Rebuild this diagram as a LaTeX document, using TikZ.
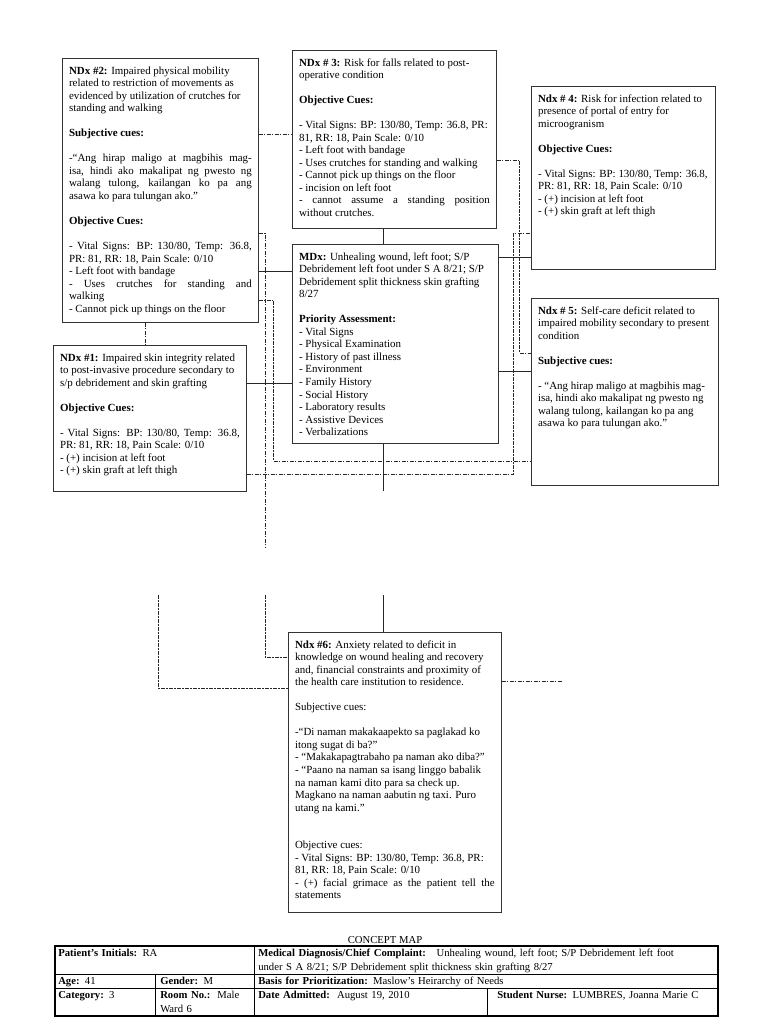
\documentclass[tikz,border=0pt]{standalone}
\usepackage{fontspec}
\setmainfont{Liberation Serif}
\usepackage{tikz}
\usetikzlibrary{arrows.meta}

\tikzset{
nbox/.style={draw=black!80,line width=0.6pt,anchor=north west,align=justify,inner xsep=5pt,inner ysep=5.8pt,text height=6pt,font=\fontsize{8.2}{9.4}\selectfont},
tcell/.style={anchor=north west,inner sep=0pt,text height=5.5pt,text width=#1,align=left,font=\fontsize{8}{10.5}\selectfont},
sline/.style={black!85,line width=0.5pt},
dline/.style={black!85,line width=0.5pt,dash pattern=on 3pt off 1pt on 1pt off 1pt}
}
\newcommand{\blk}{\\[9.4pt]}

\begin{document}
\begin{tikzpicture}[x=0.75pt,y=-0.75pt,>=stealth]
\useasboundingbox[fill=white](0,0)rectangle(768,1024);

\node[nbox,text width=137pt,text depth=180.4pt](n2)at(62,58){\textbf{NDx \#2:} Impaired physical mobility\\
related to restriction of movements as\\
evidenced by utilization of crutches for\\
standing and walking\blk
\textbf{Subjective cues:}\blk
-“Ang hirap maligo at magbihis mag-\linebreak
isa, hindi ako makalipat ng pwesto ng\linebreak
walang tulong, kailangan ko pa ang\linebreak
asawa ko para tulungan ako.”\blk
\textbf{Objective Cues:}\blk
- Vital Signs: BP: 130/80, Temp: 36.8,\linebreak
PR: 81, RR: 18, Pain Scale: 0/10\\
- Left foot with bandage\\
- Uses crutches for standing and\linebreak
walking\\
- Cannot pick up things on the floor};

\node[nbox,text width=143pt,text depth=115.9pt](n3)at(292,50){\textbf{NDx \# 3:} Risk for falls related to post-\\
operative condition\blk
\textbf{Objective Cues:}\blk
- Vital Signs: BP: 130/80, Temp: 36.8, PR:\\
81, RR: 18, Pain Scale: 0/10\\
- Left foot with bandage\\
- Uses crutches for standing and walking\\
- Cannot pick up things on the floor\\
- incision on left foot\\
- cannot assume a standing position\linebreak
without crutches.};

\node[nbox,text width=128pt,text depth=119.6pt](n4)at(531,86){\textbf{Ndx \# 4:} Risk for infection related to\\
presence of portal of entry for\\
microogranism\blk
\textbf{Objective Cues:}\blk
- Vital Signs: BP: 130/80, Temp: 36.8,\\
PR: 81, RR: 18, Pain Scale: 0/10\\
- (+) incision at left foot\\
- (+) skin graft at left thigh};

\node[nbox,text width=144.5pt,text depth=131.6pt](md)at(292,244){\textbf{MDx:} Unhealing wound, left foot; S/P\\
Debridement left foot under S A 8/21; S/P\\
Debridement split thickness skin grafting\\
8/27\blk
\textbf{Priority Assessment:}\\
- Vital Signs\\
- Physical Examination\\
- History of past illness\\
- Environment\\
- Family History\\
- Social History\\
- Laboratory results\\
- Assistive Devices\\
- Verbalizations};

\node[nbox,text width=134.75pt,text depth=91.9pt](n1)at(53,345){\textbf{NDx \#1:} Impaired skin integrity related\\
to post-invasive procedure secondary to\\
s/p debridement and skin grafting\blk
\textbf{Objective Cues:}\blk
- Vital Signs: BP: 130/80, Temp: 36.8,\linebreak
PR: 81, RR: 18, Pain Scale: 0/10\\
- (+) incision at left foot\\
- (+) skin graft at left thigh};

\node[nbox,text width=130pt,text depth=122.6pt](n5)at(531,298){\textbf{Ndx \# 5:} Self-care deficit related to\\
impaired mobility secondary to present\\
condition\blk
\textbf{Subjective cues:}\blk
- “Ang hirap maligo at magbihis mag-\\
isa, hindi ako makalipat ng pwesto ng\\
walang tulong, kailangan ko pa ang\\
asawa ko para tulungan ako.”};

\node[nbox,text width=149.75pt,text depth=192.4pt](n6)at(288,632){\textbf{Ndx \#6:} Anxiety related to deficit in\\
knowledge on wound healing and recovery\\
and, financial constraints and proximity of\\
the health care institution to residence.\blk
Subjective cues:\blk
-“Di naman makakaapekto sa paglakad ko\\
itong sugat di ba?”\\
- “Makakapagtrabaho pa naman ako diba?”\\
- “Paano na naman sa isang linggo babalik\\
na naman kami dito para sa check up.\\
Magkano na naman aabutin ng taxi. Puro\\
utang na kami.”\\[18.8pt]
Objective cues:\\
- Vital Signs: BP: 130/80, Temp: 36.8, PR:\\
81, RR: 18, Pain Scale: 0/10\\
- (+) facial grimace as the patient tell the\linebreak
statements};

\coordinate(c1)at(265,548);
\coordinate(c2)at(265,595);
\coordinate(c3)at(383,491);
\coordinate(c4)at(383,595);
\coordinate(c5)at(158,595);
\coordinate(c6)at(562,681);

\draw[sline](n3.south -| 383,0)--(md.north -| 383,0);
\draw[sline](md.south -| 383,0)--(c3);
\draw[sline](c4)--(n6.north -| 383,0);
\draw[sline](n2.east |- 0,271)--(md.west |- 0,271);
\draw[sline](n1.east |- 0,383)--(md.west |- 0,383);
\draw[sline](md.east |- 0,257)--(n4.west |- 0,257);
\draw[sline](md.east |- 0,371)--(n5.west |- 0,371);

\draw[dline](n2.east |- 0,134)--(n3.west |- 0,134);
\draw[dline](n2.south -| 145,0)--(n1.north -| 145,0);
\draw[dline](n2.east |- 0,233)-|(c1);
\draw[dline](c2)|-(n6.west |- 0,657);
\draw[dline](c5)|-(n6.west |- 0,688);
\draw[dline](n6.east |- 0,681)--(c6);
\draw[dline](n2.east |- 0,300)--++(15,0)|-(n5.west |- 0,461);
\draw[dline](n1.east |- 0,474)--++(267,0)|-(n4.west |- 0,233);
\draw[dline](n3.east |- 0,160)--++(23,0)|-(n5.west |- 0,353);

\node[font=\fontsize{8}{9.4}\selectfont](title)at(385,940){CONCEPT MAP};
\draw[line width=0.8pt](55,946)rectangle(718,1016);
\draw[line width=0.5pt](55,974)--(718,974)(55,988)--(718,988)
(254,946)--(254,1016)(155,974)--(155,1016)(487,988)--(487,1016);
\node[tcell=140pt](t1)at(58,949){\textbf{Patient’s Initials:} RA};
\node[tcell=342pt](t2)at(258,949){\textbf{Medical Diagnosis/Chief Complaint:}\quad Unhealing wound, left foot; S/P Debridement left foot\\under S A 8/21; S/P Debridement split thickness skin grafting 8/27};
\node[tcell=70pt](t3)at(58,977){\textbf{Age:} 41};
\node[tcell=70pt](t4)at(160,977){\textbf{Gender:} M};
\node[tcell=340pt](t5)at(258,977){\textbf{Basis for Prioritization:} Maslow’s Heirarchy of Needs};
\node[tcell=70pt](t6)at(58,991){\textbf{Category:} 3};
\node[tcell=70pt](t7)at(160,991){\textbf{Room No.:}\ \ Male\\Ward 6};
\node[tcell=170pt](t8)at(258,991){\textbf{Date Admitted:}\ \ August 19, 2010};
\node[tcell=165pt](t9)at(497,991){\textbf{Student Nurse:} LUMBRES, Joanna Marie C};
\end{tikzpicture}
\end{document}
